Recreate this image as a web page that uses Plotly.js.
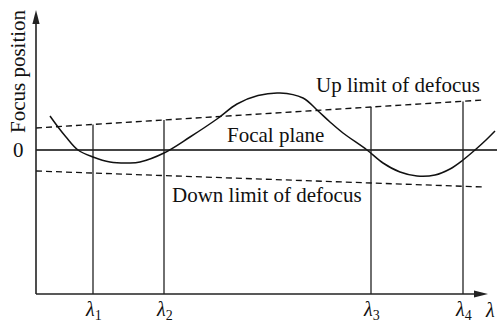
<!DOCTYPE html>
<html>
<head>
<meta charset="utf-8">
<script src="https://cdn.plot.ly/plotly-3.0.1.min.js"></script>
<style>html,body{margin:0;padding:0;background:#fff;}#chart{width:497px;height:324px;}</style>
</head>
<body>
<div id="chart"></div>
<script>
// Wavelength (arbitrary units) and focus position (arbitrary units)
const curveX = [1.4, 2.2, 3.0, 4.2, 5.7, 7.4, 9.3, 10.4, 12.8, 15.4, 18.1, 20.1, 22.2, 24.4, 26.7, 28.1, 29.4, 30.7, 33.1, 34.7, 36.4, 38.1, 39.9, 41.4, 42.7, 43.9, 45.0, 45.9];
const curveY = [3.4, 2.3, 1.3, 0.0, -0.7, -1.2, -1.3, -1.2, -0.3, 1.3, 3.1, 4.6, 5.45, 5.7, 5.2, 4.0, 2.8, 1.7, 0.0, -1.3, -2.2, -2.6, -2.5, -1.9, -1.0, 0.0, 1.0, 1.9];

const limitX = [0, 44.7];
const upLimitY = [2.2, 5.0];
const downLimitY = [-2.1, -3.7];

const lambdaLabels = ['<i>λ</i><sub>1</sub>', '<i>λ</i><sub>2</sub>', '<i>λ</i><sub>3</sub>', '<i>λ</i><sub>4</sub>'];
const lambdaX = [5.7, 12.8, 33.5, 42.7];
const lambdaTop = [2.55, 3.0, 4.3, 4.85];

const axisX0 = 0, axisY0 = -14.4;
const xArrowTip = 45.2, yArrowTip = 14.0;
const xRange = [-3.6, 46.1], yRange = [-17.4, 15.0];

const FONT = 'Liberation Serif, Times New Roman, serif';
const INK = '#111';
const AXC = '#222';

const traces = [];
// focal plane (zero line)
traces.push({x: [axisX0, xRange[1]], y: [0, 0], mode: 'lines', line: {color: '#444', width: 2}, hoverinfo: 'skip'});
// vertical lambda lines
lambdaX.forEach((lx, i) => {
  traces.push({x: [lx, lx], y: [axisY0, lambdaTop[i]], mode: 'lines', line: {color: '#222', width: 1.3}, hoverinfo: 'skip'});
});
// limits
traces.push({x: limitX, y: upLimitY, mode: 'lines', line: {color: INK, width: 1.3, dash: '6px,4px'}, hoverinfo: 'skip'});
traces.push({x: limitX, y: downLimitY, mode: 'lines', line: {color: INK, width: 1.3, dash: '6px,4px'}, hoverinfo: 'skip'});
// focus curve
traces.push({x: curveX, y: curveY, mode: 'lines', line: {color: INK, width: 1.5, shape: 'spline', smoothing: 1}, hoverinfo: 'skip'});
// axes
traces.push({x: [axisX0, axisX0], y: [axisY0, yArrowTip - 1.0], mode: 'lines', line: {color: AXC, width: 1.6}, hoverinfo: 'skip'});
traces.push({x: [axisX0, xArrowTip - 1.0], y: [axisY0, axisY0], mode: 'lines', line: {color: AXC, width: 1.6}, hoverinfo: 'skip'});

const shapes = [
  {type: 'path', xref: 'x', yref: 'y', xsizemode: 'pixel', ysizemode: 'pixel', xanchor: axisX0, yanchor: yArrowTip,
   path: 'M0,0 L-3.6,-14 L3.6,-14 Z', fillcolor: AXC, line: {width: 0}},
  {type: 'path', xref: 'x', yref: 'y', xsizemode: 'pixel', ysizemode: 'pixel', xanchor: xArrowTip, yanchor: axisY0,
   path: 'M0,0 L-14,3.6 L-14,-3.6 Z', fillcolor: AXC, line: {width: 0}}
];

const tf = {family: FONT, size: 21, color: INK};
const annotations = [
  {x: 36.15, y: 6.5, text: 'Up limit of defocus', showarrow: false, font: tf},
  {x: 23.95, y: 1.5, text: 'Focal plane', showarrow: false, font: tf},
  {x: 23.1, y: -4.5, text: 'Down limit of defocus', showarrow: false, font: tf},
  {x: -1.8, y: 7.9, text: 'Focus position', textangle: -90, showarrow: false, font: tf},
  {x: -1.8, y: 0, text: '0', showarrow: false, font: tf},
  {x: 45.4, y: -16.0, text: '<i>λ</i>', showarrow: false, font: {family: FONT, size: 20, color: INK}}
];
lambdaX.forEach((lx, i) => {
  annotations.push({x: lx, y: -16.0, text: lambdaLabels[i], showarrow: false, font: {family: FONT, size: 20, color: INK}});
});

const layout = {
  width: 497, height: 324,
  margin: {l: 0, r: 0, t: 0, b: 0, pad: 0},
  paper_bgcolor: '#fff', plot_bgcolor: '#fff',
  showlegend: false,
  xaxis: {range: xRange, visible: false, fixedrange: true},
  yaxis: {range: yRange, visible: false, fixedrange: true},
  shapes: shapes,
  annotations: annotations
};

Plotly.newPlot('chart', traces, layout, {staticPlot: true, displayModeBar: false});
</script>
</body>
</html>
